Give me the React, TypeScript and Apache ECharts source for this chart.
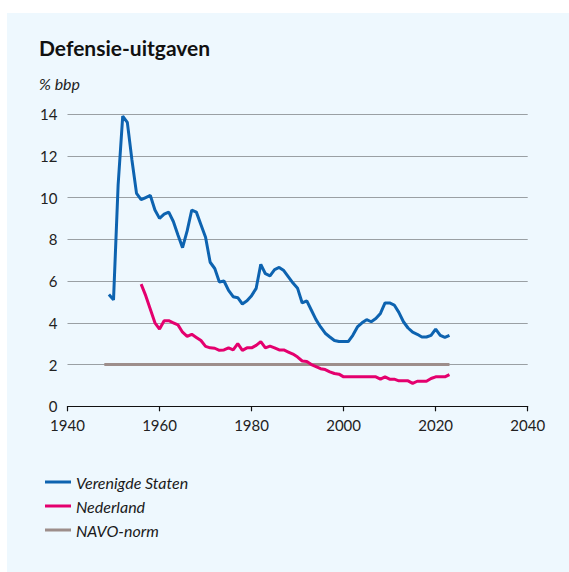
import React, { useEffect, useRef } from "react";
import * as echarts from "echarts";

const usYears = [1949, 1950, 1951, 1952, 1953, 1954, 1955, 1956, 1957, 1958, 1959, 1960, 1961, 1962, 1963, 1964, 1965, 1966, 1967, 1968, 1969, 1970, 1971, 1972, 1973, 1974, 1975, 1976, 1977, 1978, 1979, 1980, 1981, 1982, 1983, 1984, 1985, 1986, 1987, 1988, 1989, 1990, 1991, 1992, 1993, 1994, 1995, 1996, 1997, 1998, 1999, 2000, 2001, 2002, 2003, 2004, 2005, 2006, 2007, 2008, 2009, 2010, 2011, 2012, 2013, 2014, 2015, 2016, 2017, 2018, 2019, 2020, 2021, 2022, 2023];
const usValues = [5.35, 5.1, 10.6, 13.9, 13.6, 11.8, 10.2, 9.9, 10.0, 10.1, 9.4, 9.0, 9.2, 9.3, 8.85, 8.2, 7.6, 8.4, 9.4, 9.3, 8.7, 8.1, 6.9, 6.6, 5.95, 6.0, 5.55, 5.25, 5.2, 4.9, 5.05, 5.3, 5.65, 6.8, 6.35, 6.25, 6.55, 6.65, 6.5, 6.2, 5.9, 5.65, 4.95, 5.05, 4.6, 4.15, 3.8, 3.5, 3.32, 3.15, 3.1, 3.1, 3.1, 3.4, 3.8, 4.0, 4.15, 4.05, 4.2, 4.45, 4.95, 4.95, 4.85, 4.5, 4.05, 3.75, 3.55, 3.45, 3.32, 3.32, 3.4, 3.7, 3.4, 3.3, 3.4];

const nlYears = [1956, 1957, 1958, 1959, 1960, 1961, 1962, 1963, 1964, 1965, 1966, 1967, 1968, 1969, 1970, 1971, 1972, 1973, 1974, 1975, 1976, 1977, 1978, 1979, 1980, 1981, 1982, 1983, 1984, 1985, 1986, 1987, 1988, 1989, 1990, 1991, 1992, 1993, 1994, 1995, 1996, 1997, 1998, 1999, 2000, 2001, 2002, 2003, 2004, 2005, 2006, 2007, 2008, 2009, 2010, 2011, 2012, 2013, 2014, 2015, 2016, 2017, 2018, 2019, 2020, 2021, 2022, 2023];
const nlValues = [5.85, 5.3, 4.65, 4.0, 3.7, 4.1, 4.1, 4.0, 3.9, 3.55, 3.35, 3.45, 3.3, 3.15, 2.87, 2.8, 2.78, 2.68, 2.7, 2.8, 2.7, 3.0, 2.68, 2.8, 2.8, 2.92, 3.1, 2.8, 2.88, 2.8, 2.7, 2.7, 2.6, 2.5, 2.36, 2.17, 2.15, 2.0, 1.9, 1.8, 1.76, 1.65, 1.57, 1.54, 1.41, 1.41, 1.41, 1.41, 1.41, 1.41, 1.41, 1.41, 1.3, 1.41, 1.3, 1.3, 1.22, 1.22, 1.22, 1.1, 1.2, 1.2, 1.2, 1.33, 1.41, 1.41, 1.41, 1.52];

const navoYears = [1948, 2023];
const navoValues = [2, 2];

const seriesNames = ["Verenigde Staten", "Nederland", "NAVO-norm"];
const xTicks = { min: 1940, max: 2040, interval: 20 };
const yTicks = { min: 0, max: 14, interval: 2 };

const FONT = "Lato, 'Noto Sans', sans-serif";

function pairs(xs: number[], ys: number[]) {
  return xs.map((x, i) => [x, ys[i]]);
}

export default function App() {
  const ref = useRef<HTMLDivElement>(null);
  useEffect(() => {
    if (!ref.current) return;
    const chart = echarts.init(ref.current, undefined, { renderer: "svg" });
    const colors = ["#0d63b0", "#e4006e", "#9d8e8b"];
    chart.setOption({
      animation: false,
      backgroundColor: "#ffffff",
      graphic: [
        { type: "rect", z: -10, shape: { x: 7, y: 13, width: 562, height: 559 }, style: { fill: "#eef8fe" }, silent: true },
        { type: "text", left: 39, top: 37, style: { text: "Defensie-uitgaven", font: `bold 21px ${FONT}`, fill: "#111111" } },
        { type: "text", left: 39, top: 75, style: { text: "% bbp", font: `italic 16px ${FONT}`, fill: "#222222" } },
      ],
      grid: { left: 67.5, right: 41.3, top: 114, bottom: 165.7, containLabel: false },
      xAxis: {
        type: "value",
        min: xTicks.min,
        max: xTicks.max,
        interval: xTicks.interval,
        axisLine: { show: true, lineStyle: { color: "#111111", width: 1.2 } },
        axisTick: { show: true, length: 5, lineStyle: { color: "#111111", width: 1.2 } },
        splitLine: { show: false },
        axisLabel: { color: "#222222", fontSize: 15, fontFamily: FONT, margin: 11, formatter: (v: number) => String(v) },
      },
      yAxis: {
        type: "value",
        min: yTicks.min,
        max: yTicks.max,
        interval: yTicks.interval,
        axisLine: { show: false },
        axisTick: { show: false },
        splitLine: { show: true, lineStyle: { color: "#9aa0a4", width: 1.2 } },
        axisLabel: { color: "#222222", fontSize: 15, fontFamily: FONT, margin: 10 },
      },
      legend: {
        orient: "vertical",
        left: 40,
        top: 468,
        icon: "rect",
        itemWidth: 26,
        itemHeight: 3,
        itemGap: 6,
        textStyle: { fontSize: 16, fontStyle: "italic", fontFamily: FONT, color: "#1a1a1a", lineHeight: 18, padding: [0, 0, 0, 0] },
        data: seriesNames,
      },
      series: [
        { name: seriesNames[0], type: "line", data: pairs(usYears, usValues), showSymbol: false, symbol: "none", lineStyle: { width: 3, color: colors[0] }, itemStyle: { color: colors[0] }, z: 3 },
        { name: seriesNames[1], type: "line", data: pairs(nlYears, nlValues), showSymbol: false, symbol: "none", lineStyle: { width: 3, color: colors[1] }, itemStyle: { color: colors[1] }, z: 3 },
        { name: seriesNames[2], type: "line", data: pairs(navoYears, navoValues), showSymbol: false, symbol: "none", lineStyle: { width: 3, color: colors[2] }, itemStyle: { color: colors[2] }, z: 2 },
      ],
    });
    return () => chart.dispose();
  }, []);
  return <div ref={ref} style={{ position: "absolute", left: 0, top: 0, width: 569, height: 572 }} />;
}
